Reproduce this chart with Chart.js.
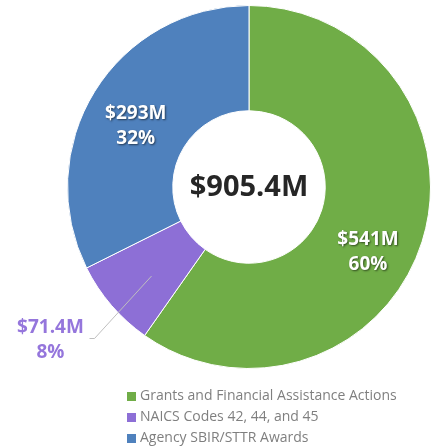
<!DOCTYPE html>
<html>
<head>
<meta charset="utf-8">
<script src="https://cdn.jsdelivr.net/npm/chart.js@4/dist/chart.umd.min.js"></script>
<style>
  html, body { margin: 0; padding: 0; background: #fff; }
  #wrap { position: relative; width: 432px; height: 448px; }
</style>
</head>
<body>
<div id="wrap"><canvas id="donut"></canvas></div>
<script>
const categories = [
  "Grants and Financial Assistance Actions",
  "NAICS Codes 42, 44, and 45",
  "Agency SBIR/STTR Awards"
];
const amounts = [541, 71.4, 293];          // $M
const amountLabels = ["$541M", "$71.4M", "$293M"];
const percentLabels = ["60%", "8%", "32%"];
const totalLabel = "$905.4M";

const colors = ["#70ad47", "#8d6fd6", "#4f81bd"];
const FONT = "'Open Sans', 'Noto Sans', sans-serif";

// labels on the slices, the small one goes outside with a leader line
const sliceLabels = {
  id: "sliceLabels",
  afterDatasetsDraw(chart, args, opts) {
    const ctx = chart.ctx;
    const meta = chart.getDatasetMeta(0);
    meta.data.forEach((arc, i) => {
      const p = arc.getProps(["x", "y", "startAngle", "endAngle", "innerRadius", "outerRadius"], true);
      const mid = (p.startAngle + p.endAngle) / 2 + (opts.nudge[i] || 0);
      ctx.save();
      ctx.font = "bold 19px " + FONT;
      ctx.textAlign = "center";
      ctx.textBaseline = "middle";
      if (opts.outside[i]) {
        const r1 = p.innerRadius + (p.outerRadius - p.innerRadius) * 0.53;
        const r2 = p.outerRadius + 35;
        const x1 = p.x + Math.cos(mid + 0.03) * r1, y1 = p.y + Math.sin(mid + 0.03) * r1;
        const x2 = Math.round(p.x + Math.cos(mid) * r2) + 0.5;
        const y2 = Math.round(p.y + Math.sin(mid) * r2) + 0.5;
        ctx.strokeStyle = "#bfbfbf";
        ctx.lineWidth = 1;
        ctx.beginPath();
        ctx.moveTo(x1, y1);
        ctx.lineTo(x2, y2);
        ctx.lineTo(x2 - 5, y2);
        ctx.stroke();
        ctx.fillStyle = "#9576dc";
        const lx = x2 - 44;
        ctx.fillText(amountLabels[i], lx, y2 - 11);
        ctx.fillText(percentLabels[i], lx, y2 + 14);
      } else {
        const r = p.innerRadius + (p.outerRadius - p.innerRadius) * opts.radius[i];
        const x = p.x + Math.cos(mid) * r, y = p.y + Math.sin(mid) * r;
        ctx.shadowColor = "rgba(0,0,0,0.55)";
        ctx.shadowBlur = 2;
        ctx.shadowOffsetX = 1;
        ctx.shadowOffsetY = 1;
        ctx.fillStyle = "#fff";
        ctx.fillText(amountLabels[i], x, y - 12);
        ctx.fillText(percentLabels[i], x, y + 13);
      }
      ctx.restore();
    });

    // total in the hole
    const a = meta.data[0];
    ctx.save();
    ctx.font = "bold 29px " + FONT;
    ctx.fillStyle = "#262626";
    ctx.textAlign = "center";
    ctx.textBaseline = "middle";
    ctx.fillText(totalLabel, a.x, a.y + 1);
    ctx.restore();

    // legend, one entry per row
    ctx.save();
    ctx.font = "14px " + FONT;
    ctx.textBaseline = "middle";
    categories.forEach((c, i) => {
      const y = 396 + i * 21;
      ctx.fillStyle = colors[i];
      ctx.fillRect(127, y - 4, 9, 9);
      ctx.fillStyle = "#7f7f7f";
      ctx.fillText(c, 140, y);
    });
    ctx.restore();
  }
};

function drawChart() {
  new Chart(document.getElementById("donut"), {
    type: "doughnut",
    data: {
      labels: categories,
      datasets: [{
        data: amounts,
        backgroundColor: colors,
        borderColor: "#ffffff",
        borderWidth: 1
      }]
    },
    options: {
      responsive: true,
      maintainAspectRatio: false,
      animation: false,
      cutout: "42%",
      layout: { padding: { left: 67, right: 1, top: 5, bottom: 79 } },
      plugins: {
        legend: { display: false },
        tooltip: { enabled: false },
        sliceLabels: {
          nudge: [0.188, -0.06, -0.056],
          radius: [0.56, 0.53, 0.5],
          outside: [false, true, false]
        }
      }
    },
    plugins: [sliceLabels]
  });
}

Promise.all([
  document.fonts.load("bold 19px 'Open Sans'"),
  document.fonts.load("14px 'Open Sans'")
]).then(drawChart, drawChart);
</script>
</body>
</html>
